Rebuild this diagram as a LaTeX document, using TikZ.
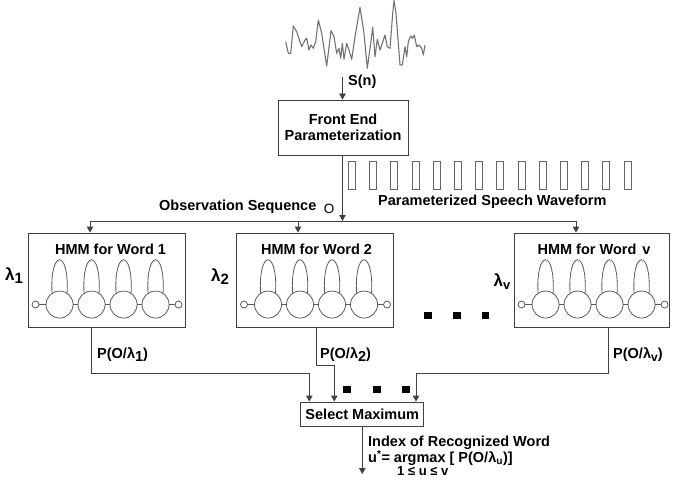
\documentclass[tikz,border=0pt]{standalone}
\usepackage{fontspec}
\setmainfont{Liberation Sans}
\usetikzlibrary{arrows.meta}
\newcommand\hmmchain[1]{%
  \begin{scope}[shift={(#1.north west)}]
    \foreach \cx in {32,64,96,128}{%
      \draw[hmmc] (\cx,72) circle[radius=13.5];
      \draw[hmmc] (\cx-7.5,61) .. controls (\cx-10,16) and (\cx+10,16) .. (\cx+7.5,61);
    }
    \draw[hmmc] (8,72) circle[radius=3.5];
    \draw[hmmc] (151,72) circle[radius=3.5];
    \draw[hmmc] (11.5,72) -- (18.5,72);
    \draw[hmmc] (45.5,72) -- (50.5,72);
    \draw[hmmc] (77.5,72) -- (82.5,72);
    \draw[hmmc] (109.5,72) -- (114.5,72);
    \draw[hmmc] (141.5,72) -- (147.5,72);
  \end{scope}}
\begin{document}
\begin{tikzpicture}[x=1pt,y=-1pt,
  lc/.style={draw=black!75, line width=0.9pt},
  arr/.style={-{Triangle[length=6pt,width=6.5pt]}, draw=black!75, line width=0.9pt},
  lbl/.style={font=\bfseries\fontsize{14.5}{16}\selectfont, inner sep=0pt},
  lam/.style={font=\bfseries\fontsize{17}{17}\selectfont, inner sep=0pt},
  box/.style={draw=black!75, line width=0.9pt, inner sep=0pt},
  sqdot/.style={fill=black, inner sep=0pt, minimum size=7.5pt},
  hmmc/.style={draw=black!65, line width=0.8pt},
  frame/.style={draw=black!60, line width=0.9pt}
]
\useasboundingbox (0,0) rectangle (677,484);

% speech waveform
\draw[black!55, line width=1.1pt, line join=round]
 (285.7,41.7) -- (288.3,53.3) -- (290.7,53.3) -- (293.3,26) -- (296.7,31.7) -- (301.7,46.7)
 -- (305,40) -- (306.7,38.3) -- (309,50) -- (311,45) -- (313.3,48.3) -- (315.7,41.7)
 -- (318.3,20) -- (321.7,33.3) -- (326.7,66) -- (331,30.7) -- (334,36.7) -- (336.7,53.3)
 -- (339,48.3) -- (340.7,58.3) -- (342.3,43.3) -- (344,59.3) -- (346.7,43.3) -- (349,50)
 -- (351.7,59.3) -- (355,36.7) -- (360,7.3) -- (364,33.3) -- (367.3,68.3) -- (370.7,43.3)
 -- (372.7,27.3) -- (375,56.7) -- (377.3,39.3) -- (380,50) -- (382.3,43.3) -- (385,35)
 -- (387.3,46.7) -- (390,48.3) -- (392.7,13.3) -- (394,0.5) -- (396,13.3) -- (400,65)
 -- (402.3,65) -- (405,46.7) -- (406.7,56.7) -- (408.3,41.7) -- (410.7,36) -- (412.7,38.3)
 -- (414.3,35) -- (416.7,46.7) -- (419,45) -- (421.7,48.3) -- (423.3,55) -- (425,45);

\coordinate (sIn) at (342.5,77);
\node[box, lbl, minimum width=130pt, minimum height=55pt, align=center] (fe) at (343,127.5) {Front End\\Parameterization};
\draw[arr] (sIn) -- (sIn |- fe.north);
\node[lbl, anchor=west] (sn) at (348,81.5) {S(n)};

% parameterized frames
\foreach \i in {0,...,13}{\draw[frame] (348.5+21.2*\i,161) rectangle ++(7,28);}

\coordinate (split) at (342.5,221);
\draw[arr] (split |- fe.south) -- (split);
\coordinate (h1) at (90,221);
\coordinate (h2) at (298,221);
\coordinate (hv) at (576,221);
\draw[lc] (h1) -- (hv);

\node[lbl, anchor=west] (obs) at (159,207) {Observation Sequence};
\node[font=\fontsize{13.5}{13.5}\selectfont, inner sep=0pt] (o) at (329,209) {O};
\node[lbl, anchor=west] (psw) at (378,202) {Parameterized Speech Waveform};

% HMM boxes
\node[box, minimum width=157pt, minimum height=94pt] (hmm1) at (106.5,280) {};
\node[box, minimum width=157pt, minimum height=94pt] (hmm2) at (315,280) {};
\node[box, minimum width=155pt, minimum height=94pt] (hmmv) at (591.5,280) {};
\draw[arr] (h1) -- (h1 |- hmm1.north);
\draw[arr] (h2) -- (h2 |- hmm2.north);
\draw[arr] (hv) -- (hv |- hmmv.north);

\node[lbl] (t1) at (110.5,249) {HMM for Word 1};
\node[lbl] (t2) at (316.5,249) {HMM for Word 2};
\node[lbl] (tv) at (594,249) {HMM for Word\hspace{6pt}v};

\hmmchain{hmm1}
\hmmchain{hmm2}
\hmmchain{hmmv}

\node[lam] (l1) at (14,276) {λ\raisebox{-3pt}{\fontsize{15}{15}\selectfont 1}};
\node[lam] (l2) at (220,277) {λ\raisebox{-3pt}{\fontsize{15}{15}\selectfont 2}};
\node[lam] (lv) at (502,282) {λ\raisebox{-3pt}{\fontsize{13}{13}\selectfont v}};

\node[sqdot] (d1) at (428,315.5) {};
\node[sqdot] (d2) at (457,315.5) {};
\node[sqdot] (d3) at (485.5,315.5) {};

% select maximum
\node[box, lbl, minimum width=123pt, minimum height=24pt] (sel) at (362.3,414) {Select Maximum};
\coordinate (o1) at (91,373.3);
\coordinate (o2) at (316.7,365);
\coordinate (ov) at (608.3,373.3);
\draw[arr] (o1 |- hmm1.south) -- (o1) -| ([xshift=-53pt]sel.north);
\draw[arr] (o2 |- hmm2.south) -- (o2) -| ([xshift=-28pt]sel.north);
\draw[arr] (ov |- hmmv.south) -- (ov) -| ([xshift=53.7pt]sel.north);

\node[lbl, anchor=west] (p1) at (97,355) {P(O/λ\raisebox{-3pt}{1})};
\node[lbl, anchor=west] (p2) at (320,355) {P(O/λ\raisebox{-3pt}{2})};
\node[lbl, anchor=west] (pv) at (613,355) {P(O/λ\raisebox{-3pt}{\fontsize{12}{12}\selectfont v})};

\node[sqdot] (e1) at (347,389.5) {};
\node[sqdot] (e2) at (377,389.5) {};
\node[sqdot] (e3) at (406,389.5) {};

\coordinate (outend) at (362.3,474);
\draw[arr] (sel.south) -- (outend);

\node[lbl, anchor=west] (idx) at (368,443) {Index of Recognized Word};
\node[lbl, anchor=west] (um) at (368,458) {u\textsuperscript{*}= argmax [ P(O/λ\textsubscript{u})]};
\node[lbl, anchor=west, font=\bfseries\fontsize{13}{13}\selectfont] (rng) at (397,471) {1 ≤ u ≤ v};
\end{tikzpicture}
\end{document}
